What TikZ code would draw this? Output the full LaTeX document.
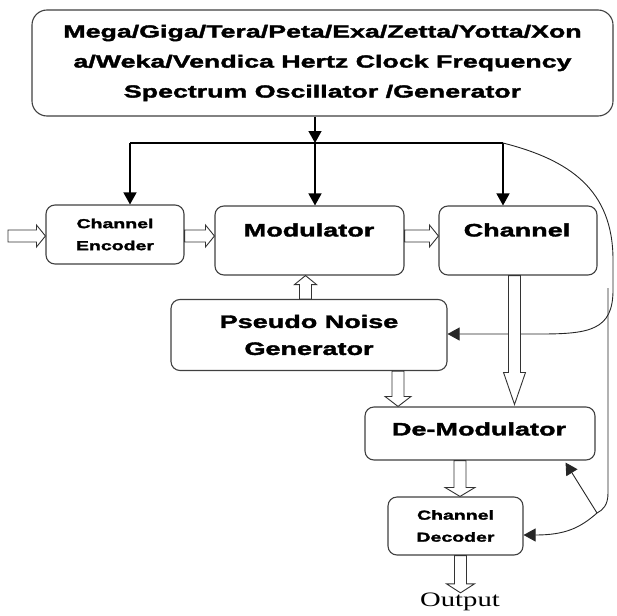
\documentclass[tikz,border=0pt]{standalone}
\usepackage{fontspec}
\usetikzlibrary{arrows.meta,calc}
\newfontfamily\bw[FakeStretch=1.5,FakeBold=2]{Liberation Sans Bold}
\newfontfamily\tw[FakeStretch=1.53,FakeBold=2]{Liberation Sans Bold}
\newfontfamily\sw[FakeStretch=1.4]{Liberation Serif}
\tikzset{
  box/.style={draw=black!75, line width=1.1pt, rounded corners=9pt, fill=white, inner sep=0pt, align=center},
  bigtxt/.style={font=\bw\fontsize{18}{27}\selectfont, align=center, inner sep=0pt},
  smalltxt/.style={font=\bw\fontsize{13}{22}\selectfont, align=center},
  arr/.style={line width=1.4pt, -{Triangle[length=12pt,width=13pt]}},
  thinline/.style={line width=0.9pt, draw=black!85},
  thinarr/.style={thinline, -{Triangle[length=12pt,width=13pt]}},
  hollow/.style={draw=black!80, line width=0.9pt, fill=white},
  hdown/.style 2 args={to path={let \p1=(\tikztostart),\p2=(\tikztotarget) in
     (\x1-6pt,\y1) -- (\x1-6pt,\y2+#1) -- (\x1-#2,\y2+#1) -- (\x1,\y2) -- (\x1+#2,\y2+#1) -- (\x1+6pt,\y2+#1) -- (\x1+6pt,\y1) -- cycle}},
  hup/.style 2 args={to path={let \p1=(\tikztostart),\p2=(\tikztotarget) in
     (\x1-6pt,\y1) -- (\x1-6pt,\y2-#1) -- (\x1-#2,\y2-#1) -- (\x1,\y2) -- (\x1+#2,\y2-#1) -- (\x1+6pt,\y2-#1) -- (\x1+6pt,\y1) -- cycle}},
  hright/.style 2 args={to path={let \p1=(\tikztostart),\p2=(\tikztotarget) in
     (\x1,\y1-6pt) -- (\x2-#1,\y1-6pt) -- (\x2-#1,\y1-#2) -- (\x2,\y1) -- (\x2-#1,\y1+#2) -- (\x2-#1,\y1+6pt) -- (\x1,\y1+6pt) -- cycle}},
}
\begin{document}
\begin{tikzpicture}[x=1pt,y=-1pt]
\useasboundingbox (0,0) rectangle (617,615);
% boxes
\node[box, rounded corners=15pt, minimum width=581pt, minimum height=106pt,
      font=\tw\fontsize{17.5}{30}\selectfont] (top) at (322.5,63)
  {Mega/Giga/Tera/Peta/Exa/Zetta/Yotta/Xon\\a/Weka/Vendica Hertz Clock Frequency\\Spectrum Oscillator /Generator};
\node[box, minimum width=138pt, minimum height=59pt, smalltxt] (enc) at (115,234.5) {Channel\\Encoder};
\node[box, minimum width=189pt, minimum height=69pt] (mod) at (309.5,240.5) {};
\node[bigtxt] (modl) at (309,230) {Modulator};
\node[box, minimum width=158pt, minimum height=69pt] (ch) at (518,240.5) {};
\node[bigtxt] (chl) at (517,230) {Channel};
\node[box, minimum width=276pt, minimum height=71pt, bigtxt] (png) at (309,335) {Pseudo Noise\\Generator};
\node[box, minimum width=230pt, minimum height=53pt] (dem) at (480,433.5) {};
\node[bigtxt] (deml) at (479,429) {De-Modulator};
\node[box, minimum width=135pt, minimum height=58pt, smalltxt] (dec) at (455.5,526) {Channel\\Decoder};
\node[font=\sw\fontsize{20.5}{24}\selectfont, inner sep=0pt] (out) at (460,602) {Output};
% clock distribution
\coordinate (jl) at (130,143);
\coordinate (jm) at (315,143);
\coordinate (jr) at (503,143);
\draw[arr] (top.south -| jm) -- (jm);
\draw[line width=1.4pt] (jl) -- (jr);
\draw[arr] (jl) -- (jl |- enc.north);
\draw[arr] (jm) -- (jm |- mod.north);
\draw[arr] (jr) -- (jr |- ch.north);
% right curves
\draw[thinarr] (jr) .. controls (570,160) and (613,190) .. (613,260) -- (613,290)
   .. controls (613,330) and (590,334) .. (540,334) -- ([yshift=1pt]png.east);
\coordinate (s2) at (608,288);
\coordinate (br) at (597,513);
\draw[thinline] (s2) -- (608,493) .. controls (608,505) and (603,510) .. (br);
\draw[thinarr] (br) -- ([xshift=-30pt,yshift=-2pt]dem.south east);
\draw[thinarr] (br) .. controls (580,528) and (565,535) .. ([yshift=-9pt]dec.east);
% hollow arrows
\coordinate (in) at (8,236);
\draw[hollow, hright={9pt}{11pt}] (in) to (enc.west);
\draw[hollow, hright={9pt}{11pt}] ([yshift=-1.5pt]enc.east) to (mod.west);
\draw[hollow, hright={9pt}{11pt}] ([yshift=4.5pt]mod.east) to (ch.west);
\draw[hollow, hup={9pt}{11pt}] ([xshift=-3.5pt]png.north) to (mod.south);
\draw[hollow, hdown={10pt}{13pt}] ([xshift=89pt]png.south) to (dem.north);
\draw[hollow, hdown={32pt}{11pt}] ([xshift=-3.5pt]ch.south) to ([yshift=2pt]dem.north);
\draw[hollow, hdown={9pt}{15pt}] ([xshift=-20pt]dem.south) to (dec.north);
\draw[hollow, hdown={9pt}{14pt}] ([xshift=5pt]dec.south) to (out.north);
\end{tikzpicture}
\end{document}
